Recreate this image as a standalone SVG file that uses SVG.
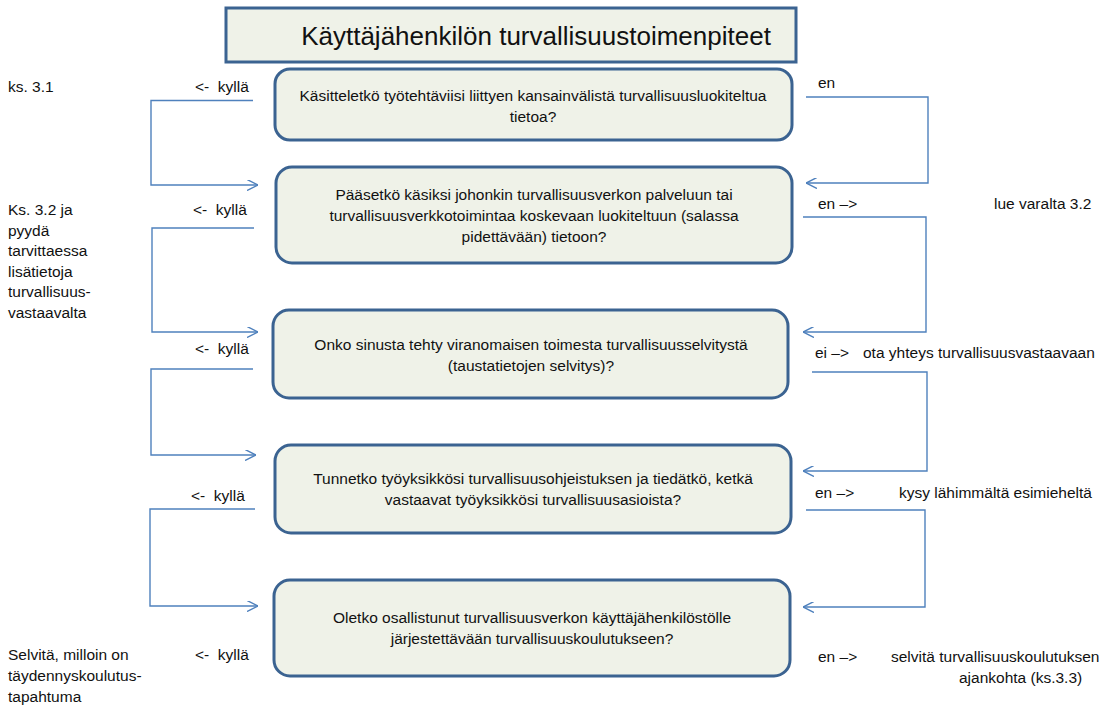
<svg xmlns="http://www.w3.org/2000/svg" width="1116" height="705" viewBox="0 0 1116 705">
<style>
.bg{fill:#ffffff}
.box{fill:#eff2e8;stroke:#3b6391;stroke-width:3}
.t{font-family:"Liberation Sans",Arial,sans-serif;font-size:15.5px;fill:#111111}
.c{text-anchor:middle}
.title{font-family:"Liberation Sans",Arial,sans-serif;font-size:26px;fill:#111111;text-anchor:middle}
.con{fill:none;stroke:#4f81bd;stroke-width:1.4}
</style>
<defs>
<marker id="arr" viewBox="0 0 10 10" refX="10" refY="5" markerWidth="11" markerHeight="11" markerUnits="userSpaceOnUse" orient="auto">
<path d="M0,0 L10,5 L0,10" fill="none" stroke="#4f81bd" stroke-width="1.3"/>
</marker>
</defs>
<rect class="bg" x="0" y="0" width="1116" height="705"/>

<g id="title">
<rect class="box" x="226" y="8" width="570" height="54"/>
<text class="title" x="536" y="45">Käyttäjähenkilön turvallisuustoimenpiteet</text>
</g>

<g id="q1">
<rect class="box" x="275" y="69" width="517" height="71" rx="15"/>
<text class="t c" x="533" y="101">Käsitteletkö työtehtäviisi liittyen kansainvälistä turvallisuusluokiteltua</text>
<text class="t c" x="533" y="122">tietoa?</text>
</g>

<g id="q2">
<rect class="box" x="276" y="167" width="516" height="96" rx="16"/>
<text class="t c" x="534" y="200">Pääsetkö käsiksi johonkin turvallisuusverkon palveluun tai</text>
<text class="t c" x="534" y="221">turvallisuusverkkotoimintaa koskevaan luokiteltuun (salassa</text>
<text class="t c" x="534" y="242">pidettävään) tietoon?</text>
</g>

<g id="q3">
<rect class="box" x="273" y="310" width="515" height="88" rx="16"/>
<text class="t c" x="531" y="350">Onko sinusta tehty viranomaisen toimesta turvallisuusselvitystä</text>
<text class="t c" x="531" y="371">(taustatietojen selvitys)?</text>
</g>

<g id="q4">
<rect class="box" x="275" y="445" width="516" height="88" rx="16"/>
<text class="t c" x="533" y="484">Tunnetko työyksikkösi turvallisuusohjeistuksen ja tiedätkö, ketkä</text>
<text class="t c" x="533" y="505">vastaavat työyksikkösi turvallisuusasioista?</text>
</g>

<g id="q5">
<rect class="box" x="274" y="580" width="516" height="96" rx="16"/>
<text class="t c" x="532" y="623">Oletko osallistunut turvallisuusverkon käyttäjähenkilöstölle</text>
<text class="t c" x="532" y="644">järjestettävään turvallisuuskoulutukseen?</text>
</g>

<g id="connectors">
<path class="con" d="M253,100.5 H151 V185 H258" marker-end="url(#arr)"/>
<path class="con" d="M254,228 H152 V332 H258" marker-end="url(#arr)"/>
<path class="con" d="M253,369 H151 V455 H256" marker-end="url(#arr)"/>
<path class="con" d="M255,509 H150 V606 H258" marker-end="url(#arr)"/>
<path class="con" d="M806,97 H928 V183 H806" marker-end="url(#arr)"/>
<path class="con" d="M803,217 H926 V332 H803" marker-end="url(#arr)"/>
<path class="con" d="M812,372 H927 V471 H803" marker-end="url(#arr)"/>
<path class="con" d="M806,510 H925 V607 H803" marker-end="url(#arr)"/>
</g>

<g id="left-labels">
<text class="t" x="8" y="92">ks. 3.1</text>
<text class="t" x="195" y="92" xml:space="preserve">&lt;-  kyllä</text>
<text class="t" x="8" y="215">Ks. 3.2 ja</text>
<text class="t" x="8" y="236">pyydä</text>
<text class="t" x="8" y="256">tarvittaessa</text>
<text class="t" x="8" y="277">lisätietoja</text>
<text class="t" x="8" y="297">turvallisuus-</text>
<text class="t" x="8" y="318">vastaavalta</text>
<text class="t" x="193" y="215" xml:space="preserve">&lt;-  kyllä</text>
<text class="t" x="195" y="354" xml:space="preserve">&lt;-  kyllä</text>
<text class="t" x="191" y="501" xml:space="preserve">&lt;-  kyllä</text>
<text class="t" x="195" y="660" xml:space="preserve">&lt;-  kyllä</text>
<text class="t" x="8" y="660">Selvitä, milloin on</text>
<text class="t" x="8" y="681">täydennyskoulutus-</text>
<text class="t" x="8" y="702">tapahtuma</text>
</g>

<g id="right-labels">
<text class="t" x="818" y="88">en</text>
<text class="t" x="818" y="209">en –&gt;</text>
<text class="t" x="994" y="209">lue varalta 3.2</text>
<text class="t" x="815" y="358">ei –&gt;</text>
<text class="t" x="863" y="358">ota yhteys turvallisuusvastaavaan</text>
<text class="t" x="815" y="498">en –&gt;</text>
<text class="t" x="899" y="498">kysy lähimmältä esimieheltä</text>
<text class="t" x="818" y="662">en –&gt;</text>
<text class="t" x="891" y="662">selvitä turvallisuuskoulutuksen</text>
<text class="t" x="959" y="683">ajankohta (ks.3.3)</text>
</g>
</svg>
